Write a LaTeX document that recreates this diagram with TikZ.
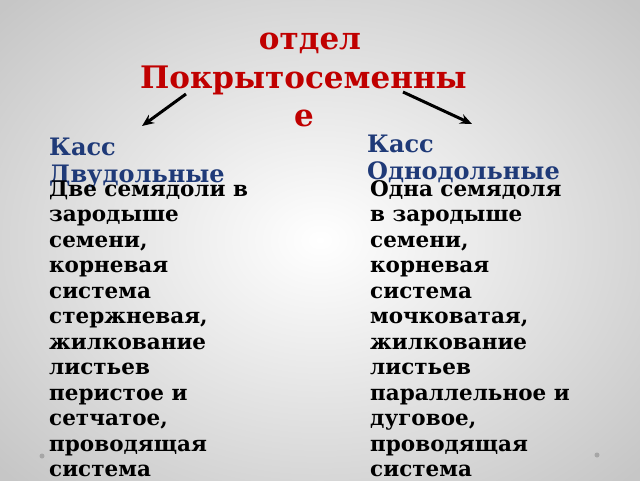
\documentclass[tikz,border=0pt]{standalone}
\usepackage{fontspec}
\setmainfont{DejaVu Serif}
\usetikzlibrary{arrows.meta}
\definecolor{titlered}{HTML}{C00000}
\definecolor{classblue}{HTML}{1F3A78}
\begin{document}
\begin{tikzpicture}[x=1pt,y=-1pt,
  title/.style={font=\bfseries\fontsize{31}{38}\selectfont, text=titlered, align=center, inner sep=0pt},
  classlbl/.style={font=\bfseries\fontsize{24}{27.5}\selectfont, text=classblue, align=left, anchor=north west, inner sep=0pt},
  body/.style={font=\bfseries\fontsize{21.5}{25.5}\selectfont, text=black, align=left, anchor=north west, inner sep=0pt},
  arr/.style={-{Stealth[length=12pt,width=10pt]}, line width=3pt, black},
  dot/.style={circle, fill=gray!70, inner sep=0pt, minimum size=5pt}]
\useasboundingbox (0,0) rectangle (640,480);
\clip (0,0) rectangle (640,480);
\shade[inner color=white, outer color=gray!45] (-120,-100) rectangle (760,580);
\node[title, anchor=base] (t1) at (310,49) {отдел};
\node[title, anchor=base] (t2) at (303.5,88) {Покрытосеменны};
\node[title, anchor=base] (t3) at (304,126) {е};
\coordinate (la) at (186,94);
\coordinate (lb) at (142,126);
\coordinate (ra) at (403,92);
\coordinate (rb) at (472,124);
\draw[arr] (la) -- (lb);
\draw[arr] (ra) -- (rb);
\node[classlbl] (cl) at (49,137.5) {Касс\\Двудольные};
\node[classlbl] (cr) at (367,134.5) {Касс\\Однодольные};
\node[body] (bl) at (49,180.3) {Две семядоли в\\зародыше\\семени,\\корневая\\система\\стержневая,\\жилкование\\листьев\\перистое и\\сетчатое,\\проводящая\\система};
\node[body] (br) at (370,180) {Одна семядоля\\в зародыше\\семени,\\корневая\\система\\мочковатая,\\жилкование\\листьев\\параллельное и\\дуговое,\\проводящая\\система};
\node[dot] (d1) at (42,456) {};
\node[dot] (d2) at (597,455) {};
\end{tikzpicture}
\end{document}
